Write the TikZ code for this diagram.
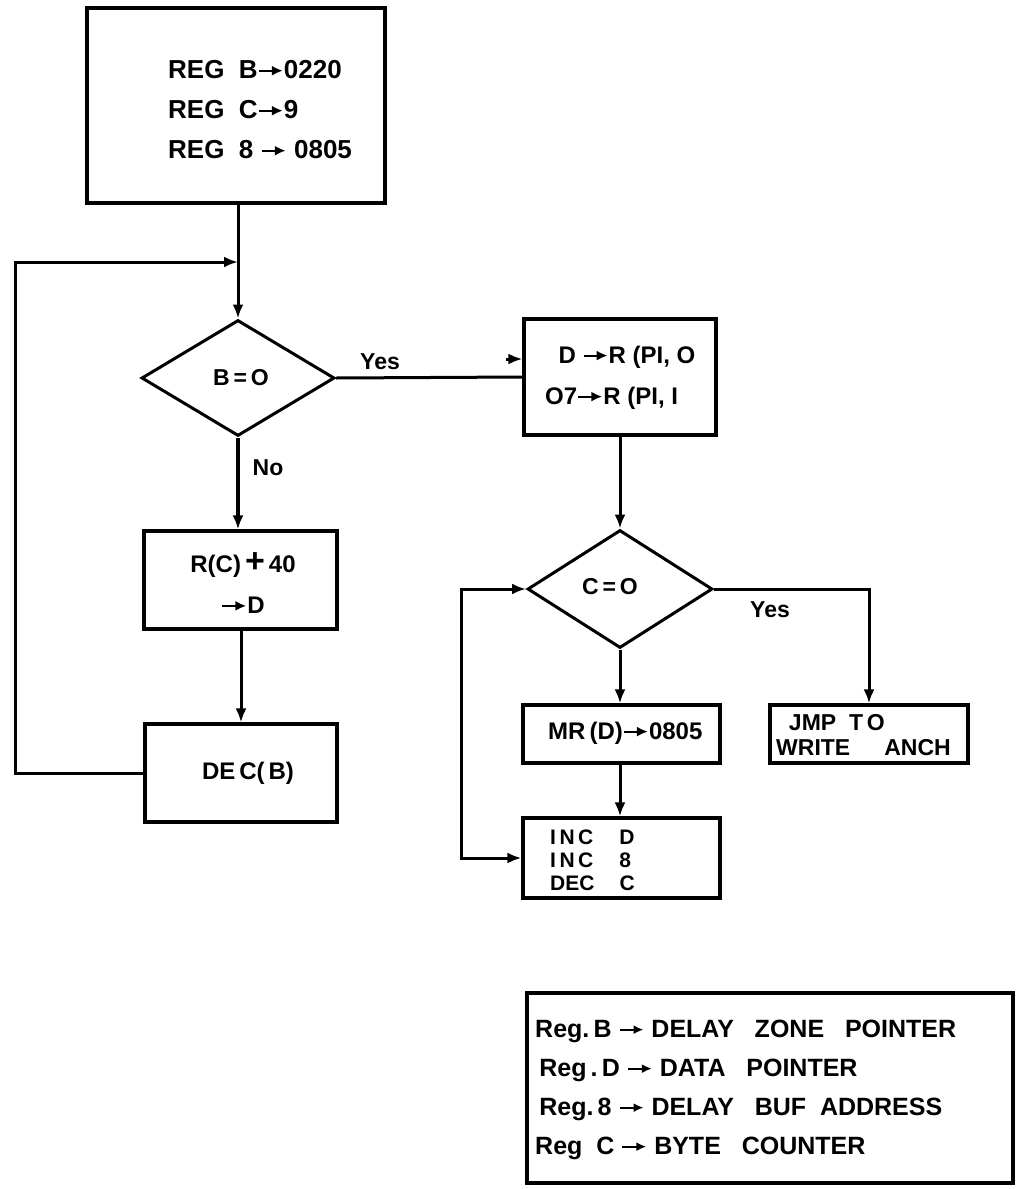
\documentclass[tikz,border=0pt]{standalone}
\usepackage{fontspec}
\setmainfont{Liberation Sans}
\usetikzlibrary{shapes.geometric,arrows.meta,calc}
\newcommand{\ra}{\tikz[baseline=-0.6ex]\draw[line width=2.2pt,-{Latex[length=11pt,width=10pt]}](0pt,0pt)--(24pt,0pt);}
\newcommand{\rl}{\tikz[baseline=-0.6ex]\draw[line width=2pt,-{Latex[length=10pt,width=9pt]}](0pt,0pt)--(24pt,0pt);}
\tikzset{
  box/.style={draw,line width=3.2pt,inner sep=0pt,minimum width=#1},
  dia/.style={draw,diamond,line width=3pt,inner sep=0pt},
  big/.style={font=\bfseries\fontsize{26}{40}\selectfont,inner sep=0pt,align=left},
  txt/.style={font=\bfseries\fontsize{24}{41}\selectfont,inner sep=0pt,align=left},
  lbl/.style={font=\bfseries\fontsize{23}{25}\selectfont,inner sep=0pt,align=left},
  small/.style={font=\bfseries\fontsize{21}{23}\selectfont,inner sep=0pt,align=left},
  conn/.style={line width=3pt},
  arr/.style={line width=3pt,-{Latex[length=14pt,width=11pt]}},
  arrs/.style={line width=3pt,{Latex[length=14pt,width=11pt]}-{Latex[length=14pt,width=11pt]}}
}
\begin{document}
\begin{tikzpicture}[x=1pt,y=-1pt]
\useasboundingbox[fill=white] (0,0) rectangle (1020,1189);
% boxes
\node[box=298pt,minimum height=195pt] (top) at (236,105.5) {};
\node[dia,minimum width=193pt,minimum height=116pt] (B) at (238,378) {};
\node[box=192pt,minimum height=116pt] (yes) at (620,377) {};
\node[box=193pt,minimum height=98pt] (rc) at (240.5,580) {};
\node[box=192pt,minimum height=98pt] (dec) at (241,773) {};
\node[dia,minimum width=185pt,minimum height=118pt] (C) at (620,589) {};
\node[box=197pt,minimum height=58pt] (mr) at (621.5,734) {};
\node[box=197pt,minimum height=80pt] (inc) at (621.5,858) {};
\node[box=198pt,minimum height=58pt] (jmp) at (869,734) {};
\node[box=486pt,minimum height=190pt] (leg) at (770,1088) {};
% texts
\node[big,anchor=west] (ttop) at (168,110) {REG\ \ B\ra0220\\REG\ \ C\ra9\\REG\ \ 8\ \ra\ 0805};
\node[lbl] (tB) at (241,378) {B\,=\,O};
\node[lbl] (tyes1) at (380,362) {Yes};
\node[lbl] (tno) at (268,468) {No};
\node[txt,anchor=west] (tyes) at (545,377.5) {\ \ D\ \ra R\ (PI,\ O\\O7\ra R\ (PI,\ I};
\node[txt,align=center] (trc) at (243,583) {R(C)\,{\fontsize{34}{30}\selectfont +}\,40\\\ra D};
\node[txt] (tdec) at (248,773) {DE\,C(\,B)};
\node[lbl] (tC) at (610,587) {C\,=\,O};
\node[lbl] (tyes2) at (770,610) {Yes};
\node[txt,anchor=west] (tmr) at (548,733) {MR\,(D)\ra0805};
\node[small,anchor=west] (tinc) at (550,860) {I\,N\,C\hspace{26pt}D\\I\,N\,C\hspace{26pt}8\\DEC\hspace{25pt}C};
\node[small,anchor=west,font=\bfseries\fontsize{23}{25}\selectfont] (tjmp) at (776,735) {\ \ JMP\ \ T\,O\\WRITE\hspace{34pt}ANCH};
\node[big,anchor=west,font=\bfseries\fontsize{25}{39}\selectfont] (tleg) at (535,1090) {Reg.\,B\ \rl\ DELAY\ \ \ ZONE\ \ \ POINTER\\\,Reg\,.\,D\ \rl\ DATA\ \ \ POINTER\\\,Reg.\,8\ \rl\ DELAY\ \ \ BUF\ \ ADDRESS\\Reg\ \ C\ \rl\ BYTE\ \ \ COUNTER};
% connectors
\draw[arr] (top.south -| B.north) -- (B.north);
\draw[arr] (dec.west) -- (15,773) -- (15,262) -- (238,262);
\draw[conn] (B.east) -- (yes.west);
\draw[arr] ($(yes.west)+(-16,-18)$) -- ($(yes.west)+(0,-18)$);
\draw[line width=4.5pt,-{Latex[length=14pt,width=11pt]}] (B.south) -- (B.south |- rc.north);
\draw[arr] (rc.south -| dec.north) -- (dec.north);
\draw[arr] (yes.south) -- (C.north);
\draw[arr] (C.south) -- (C.south |- mr.north);
\draw[arr] (mr.south -| C.south) -- (C.south |- inc.north);
\draw[arrs] (inc.west) -- ++(-60,0) |- (C.west);
\draw[arr] (C.east) -| (jmp.north);
\end{tikzpicture}
\end{document}
